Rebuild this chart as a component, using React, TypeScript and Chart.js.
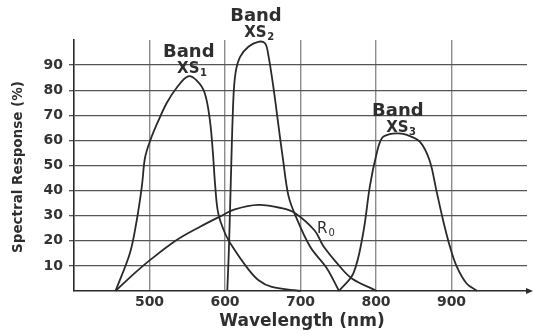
import React, { useEffect, useRef } from 'react';
import { Chart, registerables } from 'chart.js';

Chart.register(...registerables);

// ---- data ----
const xTicks = [500, 600, 700, 800, 900];
const yTicks = [10, 20, 30, 40, 50, 60, 70, 80, 90];

const xs1Wl = [455, 474, 483, 490, 494, 501, 512, 523, 536, 551, 562, 573, 580, 584, 587, 591, 600, 610, 630, 644, 662, 700];
const xs1Val = [0, 15, 28, 42, 53, 60, 68, 75, 81, 85.5, 84, 79, 68, 55, 42, 31, 23, 17.6, 9, 4.4, 1.6, 0];

const xs2Wl = [603, 605, 607, 611, 614, 620, 631, 644, 653, 657, 664, 671, 677, 684, 694, 713, 735, 751];
const xs2Val = [0, 15, 36, 76, 87, 93.3, 97.3, 99.3, 98.7, 94.7, 81.4, 65.5, 52, 38, 29.5, 17.5, 9, 0];

const xs3Wl = [751, 770, 783, 792, 801, 808, 818, 830, 841, 858, 871, 880, 889, 898, 907, 920, 934];
const xs3Val = [0, 7, 23, 42, 55, 61, 62.5, 62.8, 62.2, 59.5, 52, 40, 28, 17.6, 9.7, 3, 0];

const r0Wl = [455, 480, 501, 536, 567, 593, 613, 644, 675, 693, 719, 730, 750, 768, 801];
const r0Val = [0, 7, 12.4, 20.3, 25.6, 29.6, 32.5, 34.3, 33, 31, 24, 18, 10.5, 5, 0];

const bandSubs = ['1', '2', '3'];
const bandWl = [552, 641, 829];
const bandVal = [95.2, 109.4, 71.7];

const r0LabelWl = 734;
const r0LabelVal = 24.7;

const INK = '#2a2a2a';
const TEXT = '#2e2e2e';
const FONT = '"DejaVu Sans"';

const annotPlugin = {
  id: 'annot',
  afterDraw(chart: any) {
    const { ctx, chartArea: a, scales } = chart;
    const x = scales.x;
    const y = scales.y;
    ctx.save();

    // axis arrow
    ctx.fillStyle = INK;
    ctx.strokeStyle = INK;
    ctx.lineWidth = 1.6;
    const by = a.bottom;
    ctx.beginPath();
    ctx.moveTo(a.right - 1, by);
    ctx.lineTo(a.right + 3, by);
    ctx.stroke();
    ctx.beginPath();
    ctx.moveTo(a.right + 6, by);
    ctx.lineTo(a.right - 1, by - 3);
    ctx.lineTo(a.right - 1, by + 3);
    ctx.closePath();
    ctx.fill();

    // band labels
    ctx.fillStyle = TEXT;
    bandSubs.forEach((sub, i) => {
      const px = x.getPixelForValue(bandWl[i]);
      const py = y.getPixelForValue(bandVal[i]);
      ctx.textAlign = 'center';
      ctx.textBaseline = 'middle';
      ctx.font = `bold 18px ${FONT}`;
      ctx.fillText('Band', px, py);
      ctx.font = `bold 15px ${FONT}`;
      const w1 = ctx.measureText('XS').width;
      ctx.font = `bold 10px ${FONT}`;
      const w2 = ctx.measureText(sub).width;
      const start = px + 3 - (w1 + w2) / 2;
      ctx.textAlign = 'left';
      ctx.font = `bold 15px ${FONT}`;
      ctx.fillText('XS', start, py + 17);
      ctx.font = `bold 10px ${FONT}`;
      ctx.fillText(sub, start + w1 + 0.5, py + 21);
    });

    // R0 label
    {
      const px = x.getPixelForValue(r0LabelWl);
      const py = y.getPixelForValue(r0LabelVal);
      ctx.textAlign = 'left';
      ctx.textBaseline = 'middle';
      ctx.font = `15px ${FONT}`;
      const w = ctx.measureText('R').width;
      ctx.fillText('R', px - w / 2 - 4, py);
      ctx.font = `10px ${FONT}`;
      ctx.fillText('0', px + w / 2 - 3, py + 4);
    }

    // axis titles
    ctx.textAlign = 'center';
    ctx.textBaseline = 'middle';
    ctx.font = `bold 17px ${FONT}`;
    ctx.fillText('Wavelength (nm)', x.getPixelForValue(702), a.bottom + 31);

    ctx.save();
    ctx.translate(18, y.getPixelForValue(49.4));
    ctx.rotate(-Math.PI / 2);
    ctx.font = `bold 13.5px ${FONT}`;
    ctx.fillText('Spectral Response (%)', 0, 0);
    ctx.restore();

    ctx.restore();
  },
};

function lineDs(wl: number[], val: number[]) {
  return {
    data: wl.map((w, i) => ({ x: w, y: val[i] })),
    borderColor: INK,
    borderWidth: 1.8,
    pointRadius: 0,
    tension: 0.35,
    fill: false,
    clip: 6,
  };
}

export default function App() {
  const ref = useRef<HTMLCanvasElement>(null);

  useEffect(() => {
    const canvas = ref.current;
    if (!canvas) return;
    const chart = new Chart(canvas, {
      type: 'line',
      data: {
        datasets: [
          lineDs(xs1Wl, xs1Val),
          lineDs(xs2Wl, xs2Val),
          lineDs(xs3Wl, xs3Val),
          lineDs(r0Wl, r0Val),
        ] as any,
      },
      options: {
        animation: false,
        responsive: false,
        events: [],
        layout: { padding: { top: 40, right: 7, left: 0, bottom: 0 } },
        plugins: {
          legend: { display: false },
          tooltip: { enabled: false },
        },
        scales: {
          x: {
            type: 'linear',
            min: 400,
            max: 1000,
            afterBuildTicks: (s: any) => {
              s.ticks = xTicks.map((v) => ({ value: v }));
            },
            afterFit: (s: any) => {
              s.height = 43;
            },
            grid: { color: '#8c8c8c', lineWidth: 1.4, drawTicks: false },
            border: { color: INK, width: 1.6 },
            ticks: {
              padding: 3,
              color: '#333',
              maxRotation: 0,
              autoSkip: false,
              font: { family: 'DejaVu Sans', weight: 'bold', size: 14 },
            },
          },
          y: {
            type: 'linear',
            min: 0,
            max: 100,
            afterBuildTicks: (s: any) => {
              s.ticks = yTicks.map((v) => ({ value: v }));
            },
            afterFit: (s: any) => {
              s.width = 74;
            },
            grid: { color: '#555', lineWidth: 1.3, tickLength: 5 },
            border: { color: INK, width: 1.6 },
            ticks: {
              padding: 6,
              color: '#333',
              autoSkip: false,
              font: { family: 'DejaVu Sans', weight: 'bold', size: 14 },
            },
          },
        },
      } as any,
      plugins: [annotPlugin],
    });
    return () => chart.destroy();
  }, []);

  return (
    <div style={{ position: 'absolute', left: 0, top: 0, width: 534, height: 334, background: '#fff' }}>
      <canvas ref={ref} width={534} height={334} style={{ display: 'block' }} />
    </div>
  );
}
